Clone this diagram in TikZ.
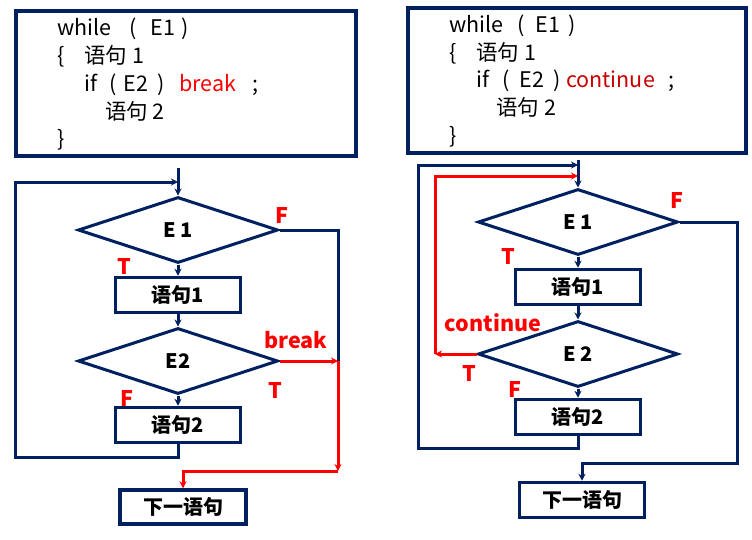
\documentclass[tikz,border=0pt]{standalone}
\usepackage{fontspec}
\setmainfont{Noto Sans CJK SC}
\usetikzlibrary{shapes.geometric,arrows.meta}

\definecolor{navy}{RGB}{0,32,96}
\definecolor{kwred}{RGB}{255,0,0}
\definecolor{kwdark}{RGB}{200,0,0}

\newcommand{\codefont}{\fontsize{21.5}{24}\selectfont}
\newcommand{\boxfont}{\fontsize{20}{24}\selectfont\bfseries}
\newcommand{\flagfont}{\fontsize{21.5}{24}\selectfont\bfseries}

\tikzset{
  code/.style={anchor=base west, inner sep=0pt, font=\codefont},
  codebox/.style={draw=navy, line width=4pt, minimum width=340pt, minimum height=145pt},
  proc/.style={draw=navy, line width=3.5pt, minimum width=125pt, minimum height=35pt, inner sep=0pt, font=\boxfont},
  cond/.style={diamond, draw=navy, line width=3pt, minimum width=200pt, minimum height=66pt, inner sep=0pt, font=\boxfont},
  flow/.style={draw=navy, line width=3pt},
  hot/.style={draw=kwred, line width=3pt},
  flag/.style={text=kwred, font=\flagfont, inner sep=0pt}
}

\begin{document}
\begin{tikzpicture}[x=1pt, y=-1pt, >={Stealth[length=7pt,width=7pt]}]

\useasboundingbox (0,0) rectangle (752,539);

% Left: while with break
\node[codebox] (lcode) at (185.5,83) {};
\node[code] (lwhile) at (57,35) {while\hspace{18pt}(\hspace{14pt}E1\hspace{6pt})};
\node[code] (lopen) at (57,63) {\{\hspace{20pt}语句 1};
\node[code] (lif) at (84,91) {if\hspace{12pt}(\hspace{7pt}E2\hspace{10pt})\hspace{14pt}\textcolor{kwred}{break}\hspace{16pt};};
\node[code] (lstmt) at (105,119) {语句 2};
\node[code] (lclose) at (57,146) {\}};

\node[cond] (le1) at (178,230) {E 1};
\node[proc] (ls1) at (178,295) {语句1};
\node[cond] (le2) at (178,361) {E2};
\node[proc] (ls2) at (178,425) {语句2};
\node[proc, minimum width=126pt, minimum height=34pt] (lnext) at (183,507) {下一语句};

\coordinate (ltop) at (178,168);
\coordinate (lin) at (178,182);
\coordinate (lbrk) at (338,361);
\coordinate (ldown) at (338,471);

\draw[flow,->] (ltop) -- (le1.north);
\draw[flow,->] (le1.south) -- (ls1.north);
\draw[flow,->] (ls1.south) -- (le2.north);
\draw[flow,->] (le2.south) -- (ls2.north);
\draw[flow,->] (ls2.south) |- (15,457) |- (lin);
\draw[flow] (le1.east) -| (lbrk);
\draw[hot,->] (le2.east) -- (lbrk);
\draw[hot,->] (lbrk) -- (ldown);
\draw[hot,->] (ldown) -| (lnext.north);

\node[flag] (lf1) at (282,215) {F};
\node[flag] (lt1) at (124,266) {T};
\node[flag] (lbreak) at (296,340) {break};
\node[flag] (lt2) at (275,390) {T};
\node[flag] (lf2) at (127,398) {F};

% Right: while with continue
\node[codebox, minimum width=338pt] (rcode) at (576.5,80) {};
\node[code] (rwhile) at (449,32) {while\hspace{14pt}(\hspace{11pt}E1\hspace{8pt})};
\node[code] (ropen) at (449,60) {\{\hspace{20pt}语句 1};
\node[code] (rif) at (476,87) {if\hspace{13pt}(\hspace{10pt}E2\hspace{10pt})\hspace{5pt}\textcolor{kwdark}{continue}\hspace{14pt};};
\node[code] (rstmt) at (496,115) {语句 2};
\node[code] (rclose) at (449,143) {\}};

\node[cond] (re1) at (578,222) {E 1};
\node[proc] (rs1) at (578,287) {语句1};
\node[cond] (re2) at (578,354) {E 2};
\node[proc] (rs2) at (578,417) {语句2};
\node[proc] (rnext) at (582,500) {下一语句};

\coordinate (rtop) at (578,160);
\coordinate (rin) at (578,165);
\coordinate (rred) at (578,176);
\coordinate (rcont) at (435,354);

\draw[flow,->] (rtop) -- (re1.north);
\draw[flow,->] (re1.south) -- (rs1.north);
\draw[flow,->] (rs1.south) -- (re2.north);
\draw[flow,->] (re2.south) -- (rs2.north);
\draw[flow,->] (rs2.south) |- (418,448) |- (rin);
\draw[hot,->] (re2.west) -- (rcont);
\draw[hot,->] (rcont) |- (rred);
\draw[flow,->] (re1.east) -| (737,463) -| (rnext.north);

\node[flag] (rf1) at (677,200) {F};
\node[flag] (rt1) at (508,256) {T};
\node[flag] (rcontinue) at (493,323) {continue};
\node[flag] (rt2) at (469,373) {T};
\node[flag] (rf2) at (515,389) {F};

\end{tikzpicture}
\end{document}
